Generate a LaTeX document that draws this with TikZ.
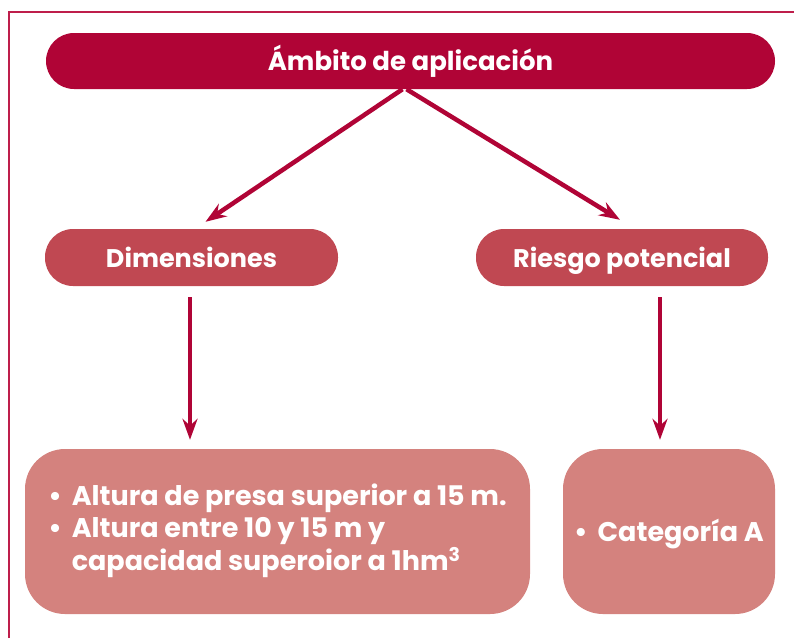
\documentclass[tikz,border=0pt]{standalone}
\usepackage{fontspec}
\setmainfont{Poppins}
\usepackage{tikz}
\usetikzlibrary{arrows.meta, calc}

\definecolor{topred}{RGB}{176,4,54}
\definecolor{midred}{RGB}{192,72,82}
\definecolor{lowred}{RGB}{212,130,126}
\definecolor{framered}{RGB}{190,30,75}

\begin{document}
\begin{tikzpicture}[x=1pt, y=1pt,
        box/.style={text=white, font=\bfseries, inner sep=0pt, align=left},
        oneline/.style={text height=22pt, text depth=3pt},
        arr/.style={draw=topred, line width=4.5pt, -{Stealth[length=21pt, width=15pt, inset=7pt]}}]
            \useasboundingbox (0,0) rectangle (794,-638);
            \draw[framered, line width=2pt] (9,-638) -- (9,-12) -- (794,-12);
            \node (ambito) at (410.5,-61) [box, oneline, fill=topred, minimum width=729pt, minimum height=56pt, rounded corners=28pt, font=\fontsize{26}{30}\selectfont\bfseries] {Ámbito de aplicación};
            \node (dimen) at (191.5,-257.5) [box, oneline, fill=midred, minimum width=293pt, minimum height=57pt, rounded corners=28pt, font=\fontsize{25.5}{30}\selectfont\bfseries] {Dimensiones};
            \node (riesgo) at (622,-257.5) [box, oneline, fill=midred, minimum width=292pt, minimum height=57pt, rounded corners=28pt, font=\fontsize{25.5}{30}\selectfont\bfseries] {Riesgo potencial};
            \node (altura) at (277.5,-531.5) [box, fill=lowred, minimum width=505pt, minimum height=165pt, rounded corners=40pt, font=\fontsize{27}{32}\selectfont\bfseries] {%
                \raisebox{-3pt}{\begin{tabular}{@{}l@{\hspace{10pt}}l@{}}
                •&Altura de presa superior a 15 m.\\
                •&Altura entre 10 y 15 m y\\
                 &capacidad superoior a 1hm\textsuperscript{3}
                \end{tabular}}};
            \node (categ) at (669,-531.5) [box, oneline, fill=lowred, minimum width=212pt, minimum height=165pt, rounded corners=40pt, font=\fontsize{27}{32}\selectfont\bfseries] {•\hspace{10pt}Categoría A};
            \draw[arr] ([xshift=-8pt]ambito.south) -- ([xshift=14pt, yshift=7pt]dimen.north);
            \draw[arr] ([xshift=-4pt]ambito.south) -- ([xshift=-2pt, yshift=9pt]riesgo.north);
            \draw[arr] ([xshift=-1.5pt, yshift=-11pt]dimen.south) -- ([xshift=-1.5pt, yshift=9pt]dimen.south |- altura.north);
            \draw[arr] ([xshift=38pt, yshift=-11pt]riesgo.south) -- ([xshift=38pt, yshift=9pt]riesgo.south |- categ.north);
        \end{tikzpicture}
\end{document}
